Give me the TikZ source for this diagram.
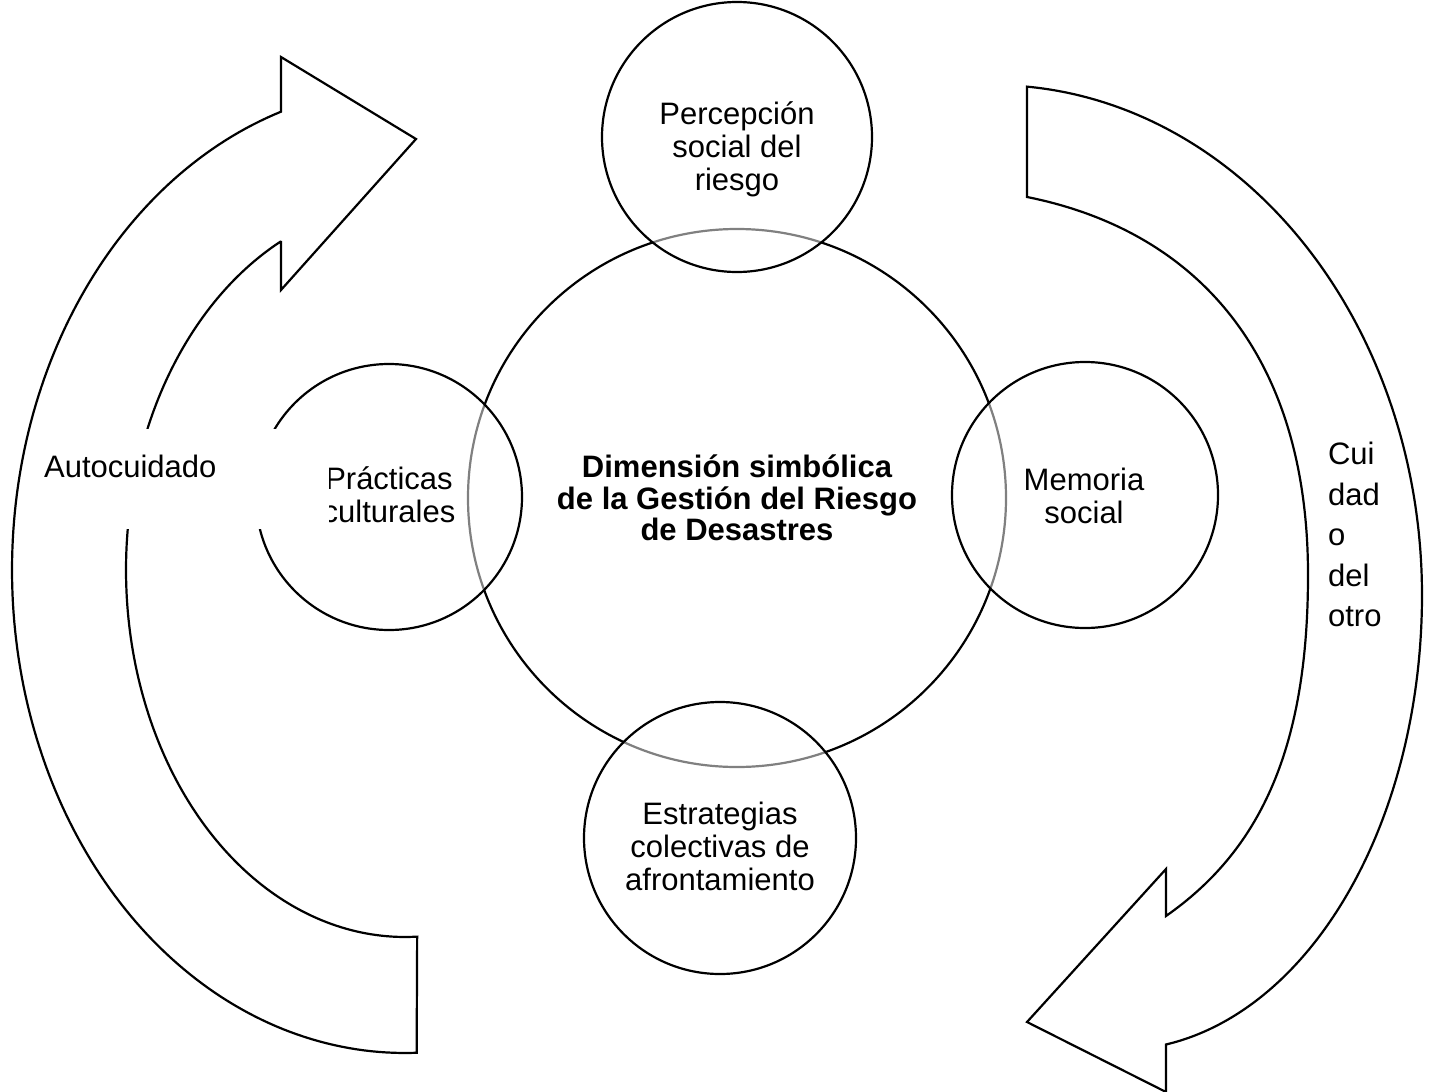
\documentclass[tikz,border=0pt]{standalone}
\usepackage{fontspec}
\setmainfont{Liberation Sans}
\begin{document}
\begin{tikzpicture}[x=1pt,y=-1pt,
  line width=2.2pt,
  ring/.style={circle, draw=black, fill=white, fill opacity=0.5, text opacity=1, inner sep=0pt, minimum size=#1},
  lbl/.style={align=center, font=\fontsize{31}{33}\selectfont, inner sep=0pt},
  blbl/.style={align=center, font=\fontsize{31}{31.5}\selectfont\bfseries, inner sep=0pt},
  band/.style={draw=black, fill=white, line join=miter}]
\useasboundingbox (0,0) rectangle (1430,1092);
\fill[white] (0,0) rectangle (1430,1092);

% left circular arrow (Autocuidado)
\draw[band] plot[domain=88.3:251.6,samples=150] ({405+393*cos(\x)},{570+483*sin(\x)})
  -- (281,57) -- (416,139) -- (281,290) -- (281,241)
  -- plot[domain=243.6:87.5,samples=150] ({405+279*cos(\x)},{570+367*sin(\x)}) -- cycle;

% right circular arrow (Cuidado del otro)
\draw[band] plot[domain=-85.45:0,samples=120] ({993+429*cos(\x)},{595+510*sin(\x)})
  -- plot[domain=0:81.08,samples=120] ({1119+303*cos(\x)},{595+455*sin(\x)})
  -- (1166,1092) -- (1027,1022) -- (1166,869) -- (1166,916)
  .. controls (1256,853) and (1308,755) .. (1308,575)
  .. controls (1308,355) and (1197,231) .. (1027,197) -- cycle;

% central circle
\node[circle, draw=black, fill=white, inner sep=0pt, minimum size=538pt] (core) at (737,498) {};

% satellite circles
\node[ring=270pt] (top) at (737,137) {};
\node[ring=266pt] (left) at (389,497) {};
\node[ring=266pt] (right) at (1085,495) {};
\node[ring=272pt] (bottom) at (720,838) {};

% labels
\node[lbl] (tPer) at (737,149) {Percepción\\social del\\riesgo};
\node[lbl] (tPra) at (389,495) {Prácticas\\culturales};
\node[lbl] (tMem) at (1084,496) {Memoria\\social};
\node[lbl] (tEst) at (720,846) {Estrategias\\colectivas de\\afrontamiento};
\node[blbl] (tCore) at (737,498) {Dimensión simbólica\\de la Gestión del Riesgo\\de Desastres};

% text box of "Autocuidado" (white, covers what lies under it)
\node[fill=white, inner sep=0pt, minimum width=298pt, minimum height=100pt, anchor=north west] (autobox) at (30,428) {};
\node[lbl, anchor=base west] (tAuto) at (43,477) {Autocuidado};

% text of the right arrow
\node[align=left, font=\fontsize{31}{40.5}\selectfont, inner sep=0pt, anchor=north west] (tCui) at (1327,441) {Cui\\dad\\o\\del\\otro};
\end{tikzpicture}
\end{document}
